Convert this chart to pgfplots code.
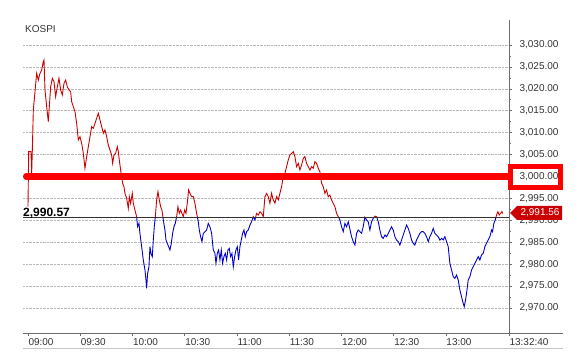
\documentclass[border=0pt]{standalone}
\usepackage{pgfplots}
\usepackage{pgfplotstable}
\pgfplotsset{compat=1.18}
\usepackage{fontspec}
\setmainfont{Liberation Sans}
\definecolor{upred}{RGB}{204,0,0}
\definecolor{dnblue}{RGB}{0,0,210}
\definecolor{annred}{RGB}{255,0,0}
\definecolor{txt}{RGB}{51,51,51}
\definecolor{axgray}{RGB}{110,110,110}

\pgfplotstableread{
m v
0 2993.12
0.38 3005.66
1.72 3005.66
2.11 3000.72
2.49 3006.04
3.06 3015.17
4.02 3019.35
4.98 3023.54
5.93 3022.02
6.89 3023.54
7.85 3024.30
8.80 3026.20
9.19 3026.58
9.76 3019.73
10.72 3015.93
11.67 3012.51
12.25 3015.93
13.01 3020.49
13.97 3022.40
14.93 3021.63
15.88 3018.21
16.84 3020.49
17.80 3022.40
18.75 3019.73
19.71 3018.59
20.67 3021.26
21.62 3022.02
22.58 3020.49
23.54 3019.73
24.49 3019.35
25.07 3017.07
26.02 3015.93
26.98 3014.79
27.94 3012.13
28.89 3008.33
29.85 3009.09
30.81 3007.57
31.76 3005.28
32.72 3001.86
33.68 3004.52
34.63 3006.80
35.59 3009.09
36.55 3011.37
37.51 3010.99
38.46 3012.13
39.42 3013.27
40.38 3014.41
41.33 3012.89
42.29 3011.37
43.24 3009.85
44.20 3010.61
45.16 3009.09
46.11 3007.18
47.07 3006.04
48.03 3004.90
48.60 3003.00
49.37 3004.90
50.32 3005.28
51.28 3006.80
51.85 3005.66
52.43 3003.76
53.19 3001.48
53.77 2999.96
54.34 2998.44
55.11 2997.68
55.68 2996.16
56.64 2995.02
57.60 2992.74
58.17 2995.40
58.93 2993.88
59.89 2996.16
60.47 2993.88
61.42 2992.35
62.38 2990.83
62.95 2988.55
63.72 2989.31
64.29 2987.03
65.25 2983.99
66.21 2980.95
67.16 2978.67
67.74 2976.38
68.12 2974.48
68.69 2977.90
69.46 2979.42
70.03 2983.99
70.61 2982.47
71.37 2981.71
71.95 2985.51
72.52 2988.55
73.29 2991.59
73.86 2994.64
74.62 2996.54
75.39 2994.64
76.16 2993.12
76.92 2992.35
77.69 2990.07
78.64 2987.79
79.22 2985.51
79.98 2984.75
80.75 2983.99
81.51 2983.23
82.28 2984.75
83.04 2987.03
83.81 2988.55
84.57 2989.31
85.34 2990.83
86.11 2993.12
86.87 2991.59
87.64 2992.35
88.40 2991.59
89.17 2990.83
89.93 2992.35
90.70 2991.59
91.46 2993.88
92.23 2996.92
92.99 2996.16
93.96 2995.40
94.91 2995.40
95.87 2993.88
96.83 2991.59
97.78 2989.69
98.36 2987.79
99.12 2986.27
99.89 2985.13
100.65 2987.03
101.61 2987.41
102.57 2987.79
103.52 2989.31
104.48 2988.55
105.44 2987.03
106.01 2984.75
106.40 2983.23
107.35 2982.47
107.93 2980.19
108.69 2982.47
109.46 2983.23
110.22 2980.95
110.99 2983.23
111.75 2980.19
112.52 2981.71
113.28 2982.47
114.05 2980.95
114.81 2983.23
115.58 2983.61
116.35 2981.71
117.11 2982.47
117.88 2979.43
118.64 2981.71
119.41 2983.23
120.17 2983.99
120.94 2980.95
121.70 2983.99
122.47 2985.51
123.23 2987.03
124.00 2987.79
124.76 2986.27
125.53 2987.41
126.48 2987.79
127.44 2988.93
128.40 2989.69
129.36 2990.83
130.31 2990.07
131.27 2991.59
132.23 2991.22
133.18 2991.97
134.14 2991.59
135.09 2990.83
136.05 2995.40
137.01 2996.16
137.96 2995.40
138.92 2993.88
139.88 2996.16
140.83 2994.64
141.79 2993.88
142.75 2995.40
143.70 2994.64
144.66 2996.16
145.62 2997.68
146.57 2999.96
147.53 3000.72
148.49 3002.24
149.44 3003.76
150.40 3004.90
151.36 3005.28
152.32 3005.66
153.27 3004.52
154.23 3002.24
155.19 3003.00
156.14 3001.48
157.10 3002.62
158.06 3004.14
159.01 3004.52
159.97 3003.00
160.93 3002.24
161.88 3001.48
162.84 3002.24
163.80 3001.86
164.75 3003.38
165.71 3003.00
166.67 3001.86
167.62 3001.10
168.58 2998.44
169.54 2997.68
170.49 2996.16
171.45 2996.92
172.41 2995.40
173.36 2995.78
174.32 2994.64
175.28 2993.88
176.23 2993.12
177.19 2991.59
178.15 2990.83
179.10 2990.07
180.06 2988.55
181.02 2987.41
181.97 2989.31
182.93 2988.55
183.89 2989.69
184.84 2988.00
185.80 2986.27
186.75 2985.13
187.71 2984.37
188.67 2987.03
189.62 2987.79
190.58 2987.41
191.54 2987.03
192.49 2988.55
193.45 2990.75
194.41 2990.07
195.36 2989.69
196.32 2987.79
197.28 2989.69
198.24 2990.45
199.19 2990.95
200.15 2990.83
201.11 2989.69
202.06 2987.79
203.02 2986.27
203.98 2985.89
204.93 2986.65
205.89 2986.27
206.85 2987.03
207.80 2987.79
208.76 2988.55
209.72 2987.79
210.67 2986.27
211.63 2985.51
212.59 2985.13
213.54 2984.37
214.50 2985.51
215.46 2986.65
216.41 2987.79
217.37 2988.93
218.33 2988.17
219.28 2987.03
220.24 2985.51
221.20 2984.75
222.15 2984.37
223.11 2985.51
224.07 2986.27
225.02 2987.03
225.98 2987.41
226.94 2987.41
227.89 2987.03
228.85 2986.27
229.81 2985.13
230.76 2986.27
231.73 2987.03
232.68 2988.17
233.64 2987.03
234.60 2986.65
235.55 2986.27
236.51 2985.51
237.47 2985.89
238.42 2985.51
239.38 2986.27
240.34 2985.13
241.29 2983.99
242.25 2980.19
243.21 2978.67
244.16 2977.15
245.12 2976.77
246.08 2977.53
247.04 2976.38
247.99 2974.10
248.95 2972.58
249.91 2971.06
250.48 2970.30
251.24 2971.82
251.82 2973.34
252.78 2976.38
253.73 2977.15
254.69 2978.67
255.65 2979.43
256.60 2980.19
257.56 2980.95
258.52 2981.71
259.47 2980.95
260.43 2982.09
261.39 2982.47
262.34 2983.99
263.30 2984.75
264.26 2985.51
265.21 2986.27
266.17 2987.79
266.74 2987.41
267.51 2989.31
268.28 2990.07
269.04 2991.22
269.80 2991.97
270.57 2991.22
271.34 2991.59
272.10 2991.97
272.67 2991.56
}\kospi

\begin{document}
\begin{tikzpicture}
\begin{axis}[
  name=ax,
  at={(0pt,0pt)}, anchor=south west,
  scale only axis, width=486pt, height=313pt,
  xmin=-2.87, xmax=276.2, ymin=2964.3, ymax=3035.7,
  axis x line*=bottom, axis y line*=right,
  axis line style={axgray, line width=0.8pt},
  xtick={0,30,60,90,120,150,180,210,240,276.2},
  xticklabels={09:00,09:30,10:00,10:30,11:00,11:30,12:00,12:30,13:00,13:32:40},
  ytick={2970,2975,2980,2985,2990,2995,3000,3005,3010,3015,3020,3025,3030},
  minor y tick num=1,
  tick align=outside,
  major tick length=3pt, minor tick length=2pt,
  tick style={axgray, line width=0.6pt},
  ymajorgrids,
  major grid style={densely dotted, gray!55, line width=0.6pt},
  /pgf/number format/.cd, fixed, fixed zerofill, precision=2, 1000 sep={,}, assume math mode=true,
  /pgfplots/.cd,
  ticklabel style={font=\fontsize{10}{12}\selectfont, text=txt},
  yticklabel style={anchor=west, xshift=4pt},
  xticklabel style={anchor=north west, xshift=-3pt, yshift=1pt},
  clip=false,
]
\begin{scope}
\clip (axis cs:-2.87,2990.57) rectangle (axis cs:276.2,3035.7);
\addplot[upred, line width=0.9pt] table[x=m, y=v] {\kospi};
\end{scope}
\begin{scope}
\clip (axis cs:-2.87,2964.3) rectangle (axis cs:276.2,2990.57);
\addplot[dnblue, line width=0.9pt] table[x=m, y=v] {\kospi};
\end{scope}
\addplot[gray!40!black, line width=0.8pt] coordinates {(-2.87,2990.57) (276.2,2990.57)};
\addplot[annred, line width=6.5pt, line cap=round] coordinates {(-1.0,3000) (276.2,3000)};
\end{axis}
\pgfresetboundingbox
\path[use as bounding box] (ax.south west) ++(-23pt,-28pt) rectangle ++(583pt,361pt);
\begin{scope}[shift={(ax.south west)}, x=1pt, y=1pt]
% extensions of the frame
\draw[axgray, line width=0.8pt] (486,0) -- (540,0);
\draw[gray!45, line width=0.8pt] (0,-15) -- (540,-15);
% title
\node[anchor=base west, inner sep=0, text=txt, font=\fontsize{10}{12}\selectfont] at (2,300) {KOSPI};
% previous close label
\node[anchor=base west, inner sep=0, font=\bfseries\fontsize{12}{14}\selectfont] at (0,116.5) {2,990.57};
% red box round 3,000.00
\draw[annred, line width=5pt] (487.2,145.5) rectangle (537.2,166.5);
% current price tag
\fill[upred] (487,120) -- (494,127) -- (539,127) -- (539,113) -- (494,113) -- cycle;
\node[text=white, inner sep=0, font=\fontsize{10}{12}\selectfont] at (517,120) {2,991.56};
\end{scope}
\end{tikzpicture}
\end{document}
